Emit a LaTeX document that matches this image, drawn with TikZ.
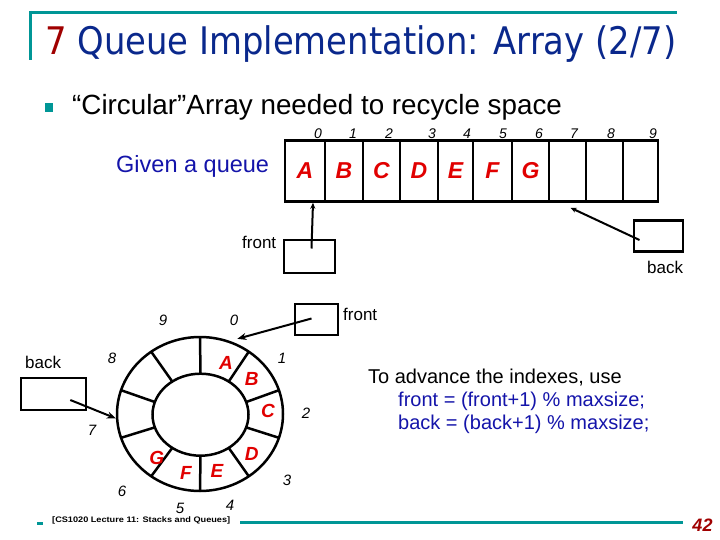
\documentclass[tikz,border=0pt]{standalone}
\usepackage{fontspec}
\usepackage{graphicx}
\setmainfont{Liberation Sans}
\newfontfamily\titlefont{DejaVu Sans}
\usetikzlibrary{shapes.geometric,arrows.meta,calc}
\definecolor{titleblue}{RGB}{10,40,140}
\definecolor{darkred}{RGB}{160,0,0}
\definecolor{tealc}{RGB}{0,150,150}
\definecolor{textblue}{RGB}{20,20,170}
\definecolor{lettred}{RGB}{225,0,0}
\begin{document}
\begin{tikzpicture}[x=1pt,y=-1pt,
  box/.style={draw, line width=2.5pt, inner sep=0pt},
  cell/.style={box, minimum height=61pt, font=\fontsize{23}{23}\selectfont\bfseries\itshape, text=lettred},
  idx/.style={inner sep=0pt, font=\fontsize{14}{14}\selectfont\itshape},
  lbl/.style={inner sep=0pt, anchor=base west, font=\fontsize{17}{17}\selectfont},
  ringlet/.style={inner sep=0pt, text=lettred, font=\fontsize{19}{19}\selectfont\bfseries\itshape},
  arr/.style={line width=2pt, -{Stealth[length=9pt,width=7pt]}},
  arrs/.style={line width=2pt, -{Stealth[length=6pt,width=5pt]}},
  ringline/.style={line width=2.5pt}]
\useasboundingbox (0,0) rectangle (720,540);
\fill[white] (0,0) rectangle (720,540);
% title frame
\draw[tealc, line width=3pt] (29,12.5) -- (677,12.5);
\draw[tealc, line width=3pt] (30,11) -- (30,60);
\node[anchor=base west, inner sep=0pt] (title) at (45,55)
  {\resizebox{631pt}{\height}{\titlefont\fontsize{38}{40}\selectfont\textcolor{darkred}{7} \textcolor{titleblue}{Queue Implementation: Array (2/7)}}};
% bullet
\fill[tealc] (45,103) rectangle (53,112);
\node[anchor=base west, inner sep=0pt, font=\fontsize{27.8}{28}\selectfont] (bul) at (72,115) {“Circular”Array needed to recycle space};
% given a queue
\node[anchor=base west, inner sep=0pt, text=textblue, font=\fontsize{23.5}{24}\selectfont] (given) at (116,173) {Given a queue};
% array
\node[cell, minimum width=40pt] (c0) at (305,171) {A};
\node[cell, minimum width=38pt] (c1) at (344,171) {B};
\node[cell, minimum width=37pt] (c2) at (381.5,171) {C};
\node[cell, minimum width=38pt] (c3) at (419,171) {D};
\node[cell, minimum width=35pt] (c4) at (455.5,171) {E};
\node[cell, minimum width=39pt] (c5) at (492.5,171) {F};
\node[cell, minimum width=37pt] (c6) at (530.5,171) {G};
\node[cell, minimum width=37pt] (c7) at (567.5,171) {};
\node[cell, minimum width=37pt] (c8) at (604.5,171) {};
\node[cell, minimum width=35pt] (c9) at (640.5,171) {};
\foreach \i/\x in {0/318,1/353,2/389,3/432,4/467,5/503,6/539,7/574,8/611,9/653}
  \node[idx] (ai\i) at (\x,134) {\i};
% upper front / back
\node[box, minimum width=51pt, minimum height=33pt] (fr1) at (309.5,256.5) {};
\node[lbl] (frl1) at (242,248) {front};
\draw[arrs] ($(fr1.center)+(2,-8)$) -- ($(c0.south)+(8,0)$);
\node[box, minimum width=49pt, minimum height=31pt] (bk1) at (658.5,236) {};
\node[lbl] (bkl1) at (647,273) {back};
\draw[arrs] ($(bk1.center)+(-19,4)$) -- ($(c7.south)+(3,5)$);
% ring
\node[ellipse, draw, line width=2.5pt, minimum width=166pt, minimum height=154pt, inner sep=0pt] (outer) at (200,414) {};
\node[ellipse, draw, line width=2.5pt, minimum width=96pt, minimum height=82pt, inner sep=0pt] (inner) at (200.5,414.7) {};
\foreach \a in {90,54,18,-18,-54,-90,-126,-162,-198,-234}
  \draw[ringline] ({200.5+48*cos(\a)},{414.7-41*sin(\a)}) -- ({200+83*cos(\a)},{414-77*sin(\a)});
\node[ringlet] (rA) at (226,362.7) {A};
\node[ringlet] (rB) at (251.7,379) {B};
\node[ringlet] (rC) at (268,410.7) {C};
\node[ringlet] (rD) at (251.7,454) {D};
\node[ringlet] (rE) at (217,470.7) {E};
\node[ringlet] (rF) at (186,472.7) {F};
\node[ringlet] (rG) at (156.7,458.3) {G};
\foreach \i/\x/\y in {0/234/320,1/282/358,2/306/413,3/287/480,4/230/505,5/180/508,6/122/491,7/92/430,8/112/358,9/163/320}
  \node[idx, font=\fontsize{15}{15}\selectfont\itshape] (ri\i) at (\x,\y) {\i};
% lower front / back
\node[box, minimum width=43pt, minimum height=31pt] (fr2) at (316.5,319.5) {};
\node[lbl] (frl2) at (343,320) {front};
\draw[arr] ($(fr2.center)+(-5,-1)$) -- ($(outer.62)+(0,-5)$);
\node[box, minimum width=65pt, minimum height=32pt] (bk2) at (53.3,394) {};
\node[lbl] (bkl2) at (25,368) {back};
\draw[arr] ($(bk2.center)+(17,6)$) -- (outer.183);
% advance text
\node[anchor=base west, inner sep=0pt, font=\fontsize{20}{20}\selectfont] (adv) at (368,383) {To advance the indexes, use};
\node[anchor=base west, inner sep=0pt, text=textblue, font=\fontsize{20}{20}\selectfont] (f1) at (398,406) {front = (front+1) \% maxsize;};
\node[anchor=base west, inner sep=0pt, text=textblue, font=\fontsize{20}{20}\selectfont] (f2) at (398,429) {back = (back+1) \% maxsize;};
% footer
\fill[tealc] (37,522) rectangle (43,525);
\node[anchor=west, inner sep=0pt] (foot) at (52,520) {\resizebox{178pt}{\height}{\fontsize{8}{8}\selectfont\bfseries [CS1020 Lecture 11: Stacks and Queues]}};
\draw[tealc, line width=3pt] (240,522.5) -- (683,522.5);
\node[inner sep=0pt, text=darkred, font=\fontsize{18}{18}\selectfont\bfseries\itshape] (pg) at (702.5,525) {42};
\end{tikzpicture}
\end{document}
